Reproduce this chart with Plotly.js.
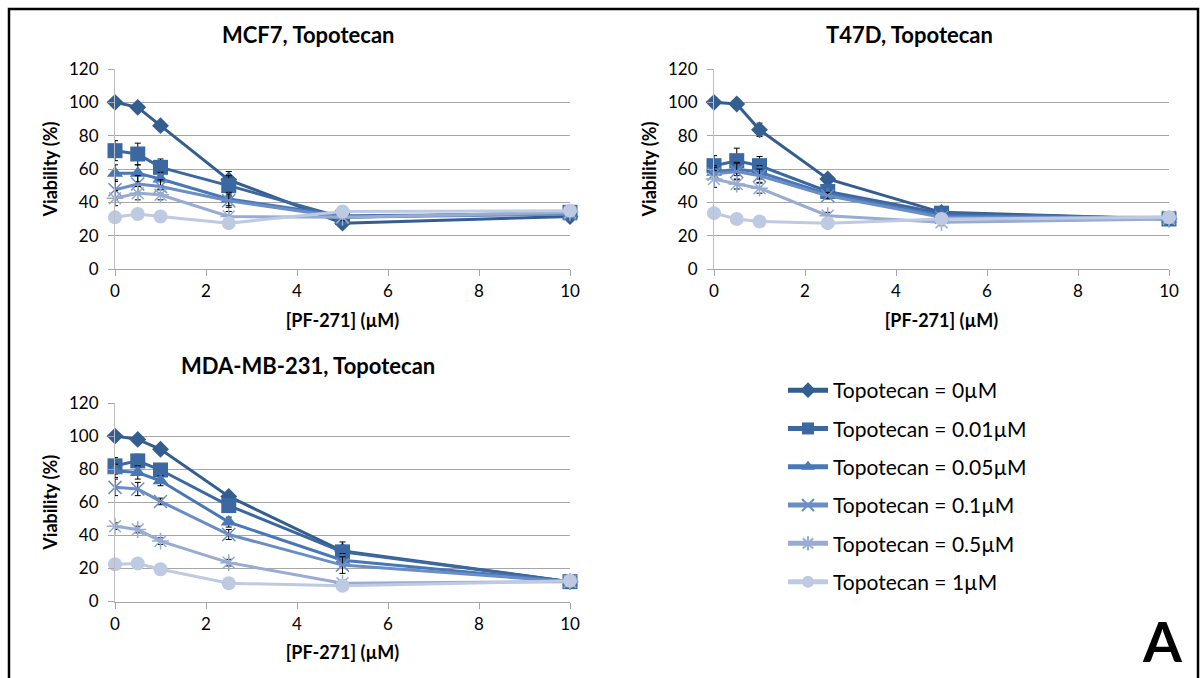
<!DOCTYPE html>
<html>
<head>
<meta charset="utf-8">
<script src="https://cdn.plot.ly/plotly-3.0.1.min.js"></script>
<style>
  html, body { margin: 0; padding: 0; background: #fff; }
  #chart { width: 1203px; height: 678px; }
</style>
</head>
<body>
<div id="chart"></div>
<script>
// PF-271 concentrations (µM) on the x axis
const doses = [0, 0.5, 1, 2.5, 5, 10];

// Topotecan concentration of each series
const seriesLabels = [
  'Topotecan = 0µM',
  'Topotecan = 0.01µM',
  'Topotecan = 0.05µM',
  'Topotecan = 0.1µM',
  'Topotecan = 0.5µM',
  'Topotecan = 1µM'
];

const panelTitles = ['MCF7, Topotecan', 'T47D, Topotecan', 'MDA-MB-231, Topotecan'];

// Viability (%) per series, one row per topotecan concentration
const mcf7Viability = [
  [100, 97, 86, 53.5, 27.5, 31.5],
  [71, 69, 61, 50, 31, 34],
  [57.5, 57.5, 54, 42, 32, 33],
  [47.5, 51, 49.5, 41, 31, 33],
  [42.5, 45.5, 44.5, 31.5, 31, 34],
  [31, 33, 31.5, 27.5, 34.5, 35]
];
const mcf7Error = [
  [1, 1, 2, 5, 2, 1],
  [6, 6.5, 5, 6, 2, 1],
  [5, 5, 4, 4, 2, 1],
  [6, 5, 4, 4, 2, 1],
  [4.5, 4, 3, 3, 2, 1],
  [1, 1, 1, 1, 1, 1]
];

const t47dViability = [
  [100, 99, 83.5, 54, 34, 30],
  [62, 65, 62, 46.5, 33.5, 30],
  [58, 60, 58, 45, 32, 30],
  [57, 58.5, 56, 44, 31, 31],
  [54, 51, 48.5, 32, 28, 30],
  [33.5, 30, 28.5, 27.5, 30, 31]
];
const t47dError = [
  [1, 2, 4, 2, 1, 1],
  [6, 7.5, 5.5, 2, 1, 1],
  [4, 4, 4, 2, 1, 1],
  [4, 5, 4, 2, 1, 1],
  [5, 3, 3, 2, 2, 1],
  [1, 1, 1, 1, 1, 1]
];

const mdaViability = [
  [100, 98, 92, 63.5, 30.5, 12],
  [82, 85, 79.5, 58, 30, 12],
  [79, 78, 73, 48, 25, 12],
  [69, 68, 60.5, 40.5, 22, 12],
  [45.5, 43.5, 36.5, 23.5, 11, 12],
  [22.5, 23, 19.5, 11, 9.5, 12.5]
];
const mdaError = [
  [1, 1, 1, 2, 2, 1],
  [5, 4, 2, 2, 6, 1],
  [4, 4, 3, 3, 4, 1],
  [5, 4, 2, 3, 5, 1],
  [2, 2, 2, 2, 2, 1],
  [1, 1, 1, 1, 1, 1]
];

// Series styling: dark to light blue, Excel-like markers
const lineColors = ['#345D90', '#3B68A1', '#4777B6', '#6A8DC6', '#97ABD3', '#BDCAE2'];
const markerSymbols = ['diamond', 'square', 'triangle-up', 'x-thin-open', 'asterisk-open', 'circle'];
const markerSizes = [13, 15, 14, 13, 14, 14];

const FONT = 'Lato, "Open Sans", sans-serif';

function panelTraces(values, errors, xaxis, yaxis, withLegend) {
  return values.map((ys, i) => ({
    type: 'scatter',
    mode: 'lines+markers',
    x: doses,
    y: ys,
    xaxis: xaxis,
    yaxis: yaxis,
    name: seriesLabels[i],
    legendgroup: 'g' + i,
    showlegend: withLegend,
    cliponaxis: false,
    line: { color: lineColors[i], width: 3 },
    marker: {
      symbol: markerSymbols[i],
      size: markerSizes[i],
      color: lineColors[i],
      line: { color: lineColors[i], width: (i === 3 || i === 4) ? 1.5 : 0 }
    },
    error_y: {
      type: 'data',
      array: errors[i],
      visible: true,
      color: '#000',
      thickness: 1,
      width: 3
    }
  }));
}

const traces = [].concat(
  panelTraces(mcf7Viability, mcf7Error, 'x', 'y', true),
  panelTraces(t47dViability, t47dError, 'x2', 'y2', false),
  panelTraces(mdaViability, mdaError, 'x3', 'y3', false)
);

const axisTitleFont = { family: FONT, size: 18, color: '#000', weight: 'bold' };

function xAxis(domain, anchor) {
  return {
    domain: domain,
    anchor: anchor,
    range: [0, 10],
    tickvals: [0, 2, 4, 6, 8, 10],
    showgrid: false,
    zeroline: false,
    showline: true,
    linecolor: '#A6A6A6',
    linewidth: 1,
    ticks: 'outside',
    ticklen: 6,
    tickcolor: '#A6A6A6',
    tickfont: { family: FONT, size: 17, color: '#000' },
    ticklabelstandoff: 1,
    title: { text: '[PF-271] (µM)', font: axisTitleFont, standoff: 13 },
    fixedrange: true
  };
}
function yAxis(domain, anchor) {
  return {
    domain: domain,
    anchor: anchor,
    range: [0, 120],
    tickvals: [0, 20, 40, 60, 80, 100, 120],
    showgrid: true,
    gridcolor: '#A6A6A6',
    gridwidth: 1,
    zeroline: false,
    showline: true,
    linecolor: '#BFBFBF',
    linewidth: 1,
    ticks: 'outside',
    ticklen: 6,
    tickcolor: '#A6A6A6',
    tickfont: { family: FONT, size: 17, color: '#000' },
    ticklabelstandoff: 6,
    title: { text: 'Viability (%)', font: axisTitleFont, standoff: 6 },
    fixedrange: true
  };
}

const W = 1203, H = 678;
const leftDom = [115 / W, 570 / W];
const rightDom = [714 / W, 1169 / W];
const topDom = [(H - 269) / H, (H - 69) / H];
const botDom = [(H - 601.5) / H, (H - 403) / H];

const titleFont = { family: FONT, size: 22, color: '#000', weight: 'bold' };

const layout = {
  width: W,
  height: H,
  margin: { l: 0, r: 0, t: 0, b: 0 },
  paper_bgcolor: '#fff',
  plot_bgcolor: 'rgba(0,0,0,0)',
  font: { family: FONT, color: '#000' },
  xaxis: xAxis(leftDom, 'y'),
  yaxis: yAxis(topDom, 'x'),
  xaxis2: xAxis(rightDom, 'y2'),
  yaxis2: yAxis(topDom, 'x2'),
  xaxis3: xAxis(leftDom, 'y3'),
  yaxis3: yAxis(botDom, 'x3'),
  showlegend: true,
  legend: {
    x: 783 / W,
    y: (H - 370) / H,
    xanchor: 'left',
    yanchor: 'top',
    bgcolor: 'rgba(0,0,0,0)',
    font: { family: FONT, size: 21, color: '#000' },
    itemwidth: 40,
    itemsizing: 'constant',
    tracegroupgap: 8,
    traceorder: 'grouped'
  },
  annotations: [
    { text: panelTitles[0], x: 308 / W, y: (H - 34) / H, xref: 'paper', yref: 'paper', showarrow: false, font: titleFont, xanchor: 'center', yanchor: 'middle' },
    { text: panelTitles[1], x: 909 / W, y: (H - 34) / H, xref: 'paper', yref: 'paper', showarrow: false, font: titleFont, xanchor: 'center', yanchor: 'middle' },
    { text: panelTitles[2], x: 308 / W, y: (H - 366) / H, xref: 'paper', yref: 'paper', showarrow: false, font: titleFont, xanchor: 'center', yanchor: 'middle' },
    { text: 'A', x: 1162 / W, y: (H - 640) / H, xref: 'paper', yref: 'paper', showarrow: false, font: { family: FONT, size: 56, color: '#000', weight: 'bold' }, xanchor: 'center', yanchor: 'middle' }
  ],
  shapes: [
    { type: 'rect', xref: 'paper', yref: 'paper', x0: 9 / W, x1: 1198 / W, y0: -0.05, y1: (H - 9) / H, line: { color: '#000', width: 2.5 }, fillcolor: 'rgba(0,0,0,0)', layer: 'above' }
  ]
};

Plotly.newPlot('chart', traces, layout, { displayModeBar: false, staticPlot: true });
</script>
</body>
</html>
